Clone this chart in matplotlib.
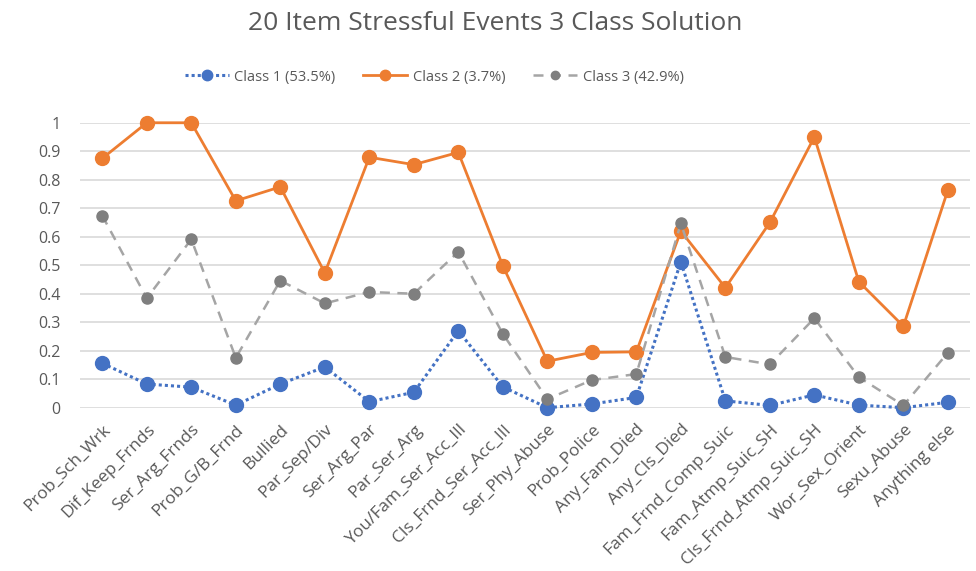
import matplotlib
matplotlib.use("Agg")
import matplotlib.pyplot as plt

# categories along x
items = ["Prob_Sch_Wrk", "Dif_Keep_Frnds", "Ser_Arg_Frnds", "Prob_G/B_Frnd",
         "Bullied", "Par_Sep/Div", "Ser_Arg_Par", "Par_Ser_Arg",
         "You/Fam_Ser_Acc_Ill", "Cls_Frnd_Ser_Acc_Ill", "Ser_Phy_Abuse",
         "Prob_Police", "Any_Fam_Died", "Any_Cls_Died", "Fam_Frnd_Comp_Suic",
         "Fam_Atmp_Suic_SH", "Cls_Frnd_Atmp_Suic_SH", "Wor_Sex_Orient",
         "Sexu_Abuse", "Anything else"]

class1 = [0.156, 0.083, 0.072, 0.009, 0.083, 0.143, 0.021, 0.054, 0.270, 0.073,
          0.000, 0.013, 0.036, 0.512, 0.024, 0.008, 0.045, 0.009, 0.000, 0.019]
class2 = [0.875, 1.000, 1.000, 0.726, 0.775, 0.473, 0.879, 0.853, 0.896, 0.498,
          0.163, 0.194, 0.196, 0.620, 0.421, 0.650, 0.950, 0.442, 0.286, 0.764]
class3 = [0.674, 0.384, 0.591, 0.175, 0.446, 0.366, 0.406, 0.400, 0.547, 0.259,
          0.030, 0.097, 0.118, 0.647, 0.178, 0.152, 0.314, 0.107, 0.008, 0.193]

labels = ["Class 1 (53.5%)", "Class 2 (3.7%)", "Class 3 (42.9%)"]
yticks = [0, 0.1, 0.2, 0.3, 0.4, 0.5, 0.6, 0.7, 0.8, 0.9, 1]
ytick_labels = ["0", "0.1", "0.2", "0.3", "0.4", "0.5", "0.6", "0.7", "0.8", "0.9", "1"]

plt.rcParams["font.family"] = ["Open Sans", "DejaVu Sans"]
txt = "#595959"

fig = plt.figure(figsize=(9.76, 5.71), dpi=100)
ax = fig.add_axes([0.082, 0.286, 0.912, 0.499])

x = list(range(len(items)))
ax.plot(x, class1, color="#4472C4", linestyle=(0, (1, 1)), linewidth=2.2,
        marker="o", markersize=10, label=labels[0], clip_on=False, zorder=3)
ax.plot(x, class2, color="#ED7D31", linestyle="-", linewidth=2,
        marker="o", markersize=10, label=labels[1], clip_on=False, zorder=3)
ax.plot(x, class3, color="#A5A5A5", linestyle=(0, (4, 3)), linewidth=1.8,
        marker="o", markersize=8, markerfacecolor="#7F7F7F",
        markeredgecolor="#7F7F7F", label=labels[2], clip_on=False, zorder=3)

ax.set_xlim(-0.5, len(items) - 0.5)
ax.set_ylim(0, 1)
ax.set_yticks(yticks)
ax.set_yticklabels(ytick_labels, fontsize=11.5, color=txt)
ax.set_xticks(x)
ax.set_xticklabels(items, rotation=45, ha="right", rotation_mode="anchor",
                   fontsize=12.5, color=txt)
ax.tick_params(axis="y", length=0, pad=14)
ax.tick_params(axis="x", length=0, pad=10)
ax.yaxis.grid(True, color="#D9D9D9", linewidth=1.2)
ax.set_axisbelow(True)
for s in ax.spines.values():
    s.set_visible(False)

fig.suptitle("20 Item Stressful Events 3 Class Solution", x=0.507, y=0.98,
             fontsize=19, color=txt)
fig.legend(loc="center", bbox_to_anchor=(0.445, 0.865), ncol=3, frameon=False,
           fontsize=10.5, labelcolor=txt, handlelength=3, handletextpad=0.4,
           columnspacing=1.9, markerscale=0.75)

fig.savefig("out.png", dpi=100)
